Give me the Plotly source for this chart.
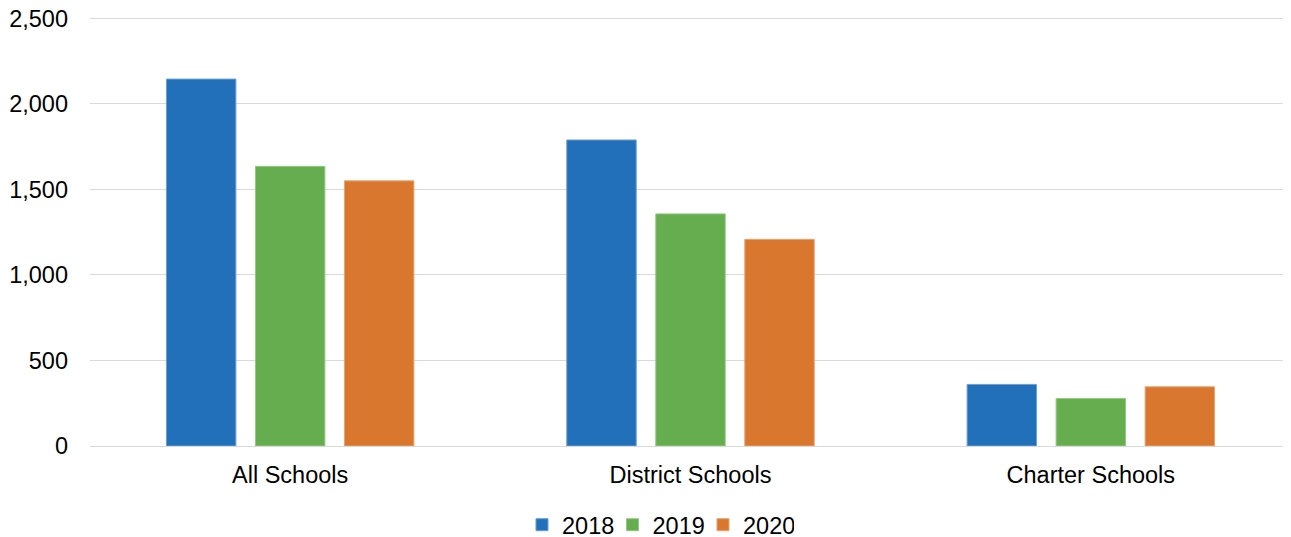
import plotly.graph_objects as go

categories = ["All Schools", "District Schools", "Charter Schools"]
years = ["2018", "2019", "2020"]
values_2018 = [2145, 1789, 360]
values_2019 = [1635, 1357, 278]
values_2020 = [1550, 1208, 346]

colors = {"2018": "#2270B9", "2019": "#66AD50", "2020": "#D9772E"}
edges = {"2018": "#6A9FD3", "2019": "#94C784", "2020": "#E6A373"}

fig = go.Figure()
for year, vals in zip(years, [values_2018, values_2019, values_2020]):
    fig.add_trace(go.Bar(
        name=year,
        x=categories,
        y=vals,
        marker=dict(color=colors[year], line=dict(color=edges[year], width=1)),
    ))

# page body has an 8px margin, so offsets are shifted to line up with the reference
fig.update_layout(
    width=1291,
    height=537,
    barmode="group",
    bargap=0.333,
    bargroupgap=0.22,
    plot_bgcolor="white",
    paper_bgcolor="white",
    font=dict(family="Liberation Sans, Arial, sans-serif", size=23.5, color="#000000"),
    margin=dict(l=82, r=8, t=8.6, b=99, autoexpand=False),
    legend=dict(
        orientation="h",
        x=0.3597,
        xanchor="left",
        y=-0.184,
        yanchor="middle",
        font=dict(size=23.5),
        itemwidth=30,
        entrywidth=45.5,
        traceorder="normal",
    ),
    showlegend=True,
)
fig.update_xaxes(
    showline=False,
    ticks="",
    showgrid=False,
    automargin=False,
    ticklabelstandoff=12,
)
# a little headroom above 2,500 so its gridline isn't clipped at the plot edge
fig.update_yaxes(
    range=[0, 2508],
    tickvals=[0, 500, 1000, 1500, 2000, 2500],
    tickformat=",",
    ticklabeloverflow="allow",
    showgrid=True,
    gridcolor="#D9D9D9",
    gridwidth=1.3,
    zeroline=True,
    zerolinecolor="#D9D9D9",
    zerolinewidth=1.3,
    ticks="",
    automargin=False,
    ticklabelstandoff=21,
)

fig.write_html("out.html")
